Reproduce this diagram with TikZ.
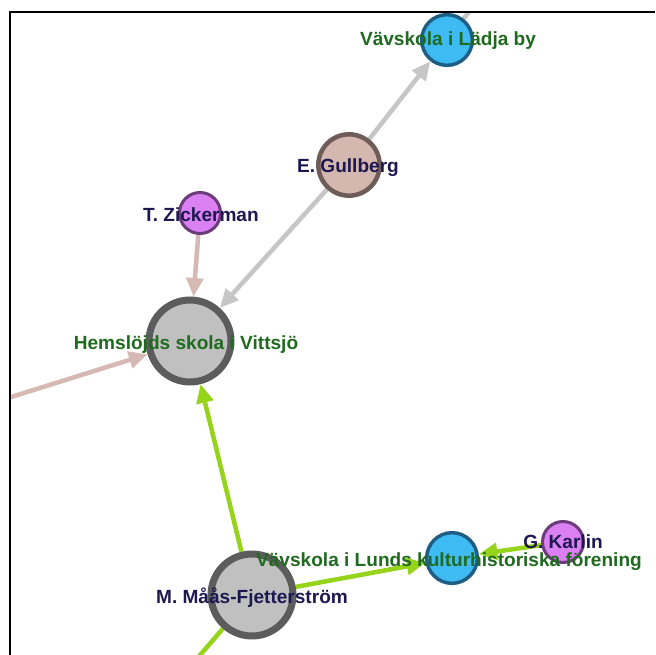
\documentclass[tikz,border=0pt]{standalone}
\usepackage{fontspec}
\setmainfont{Liberation Sans}
\usetikzlibrary{arrows.meta}

\definecolor{greylink}{HTML}{C6C6C6}
\definecolor{pinklink}{HTML}{D5B9B2}
\definecolor{greenlink}{HTML}{96D41C}
\definecolor{schoolfill}{HTML}{C0C0C0}
\definecolor{schoolring}{HTML}{5C5C5C}
\definecolor{bluefill}{HTML}{3DBBF2}
\definecolor{bluering}{HTML}{1E5D84}
\definecolor{pinkfill}{HTML}{D4B7AF}
\definecolor{pinkring}{HTML}{6E5C58}
\definecolor{violetfill}{HTML}{DA80F2}
\definecolor{violetring}{HTML}{6C3C7A}
\definecolor{schooltext}{HTML}{1F6A1F}
\definecolor{persontext}{HTML}{1D1850}

\pgfdeclarelayer{links}
\pgfsetlayers{links,main}

\tikzset{every picture/.style={line width=0.75pt}}

\begin{document}
\begin{tikzpicture}[x=0.75pt,y=0.75pt,yscale=-1,xscale=1,
    vertex/.style={circle,draw,inner sep=0pt},
    bigvertex/.style={vertex,minimum size=61.5pt,line width=5.25pt,fill=schoolfill,draw=schoolring},
    bluevertex/.style={vertex,minimum size=38pt,line width=2.6pt,fill=bluefill,draw=bluering},
    pinkvertex/.style={vertex,minimum size=46pt,line width=3.4pt,fill=pinkfill,draw=pinkring},
    violetvertex/.style={vertex,minimum size=30.75pt,line width=2.25pt,fill=violetfill,draw=violetring},
    lbl/.style={inner sep=0.75pt,font=\fontsize{14.3}{17}\selectfont\bfseries},
    schoollbl/.style={lbl,text=schooltext},
    personlbl/.style={lbl,text=persontext},
    link/.style={line width=3.4pt,-{Triangle[length=14pt,width=12.5pt]}}]
\useasboundingbox (0,0) rectangle (656,655);

\begin{scope}
\clip (10,12) rectangle (656,655);

%Nodes
\node [bluevertex] (ladja) at (447,40) {};
\node [pinkvertex] (gullberg) at (349,165) {};
\node [violetvertex] (zickerman) at (200,213) {};
\node [bigvertex] (vittsjo) at (190,341) {};
\node [bigvertex] (maas) at (252,595) {};
\node [bluevertex] (lunds) at (452,558) {};
\node [violetvertex] (karlin) at (563,542) {};

%ends of links leaving the frame
\coordinate (northout) at (490,-15);
\coordinate (westout) at (-40,413);
\coordinate (southout) at (175,684);

%Links, kept under the nodes
\begin{pgfonlayer}{links}
\clip (10,12) rectangle (656,655);
\draw [link,draw=greylink,fill=greylink] (gullberg) -- (ladja);
\draw [line width=3.4pt,greylink] (ladja) -- (northout);
\draw [link,draw=greylink,fill=greylink] (gullberg) -- (vittsjo);
\draw [link,draw=pinklink,fill=pinklink] (zickerman) -- (vittsjo);
\draw [link,draw=pinklink,fill=pinklink] (westout) -- (vittsjo);
\draw [link,draw=greenlink,fill=greenlink] (maas) -- (vittsjo);
\draw [link,draw=greenlink,fill=greenlink] (maas) -- (lunds);
\draw [link,draw=greenlink,fill=greenlink] (karlin) -- (lunds);
\draw [line width=3.4pt,greenlink] (maas) -- (southout);
\end{pgfonlayer}

% Text Node
\node [schoollbl] (ladjatext) at (448,41) {Vävskola i Lädja by};
% Text Node
\node [personlbl] (gullbergtext) at (348,168) {E. Gullberg};
% Text Node
\node [personlbl] (zickermantext) at (201,215) {T. Zickerman};
% Text Node
\node [schoollbl] (vittsjotext) at (186,345) {Hemslöjds skola i Vittsjö};
% Text Node
\node [personlbl] (maastext) at (252,598) {M. Måås-Fjetterström};
% Text Node
\node [schoollbl] (lundstext) at (449,562) {Vävskola i Lunds kulturhistoriska förening};
% Text Node
\node [personlbl] (karlintext) at (563,542) {G. Karlin};
\end{scope}

%frame
\draw [line width=1.6pt] (655,12) -- (10,12) -- (10,655);

\end{tikzpicture}
\end{document}
